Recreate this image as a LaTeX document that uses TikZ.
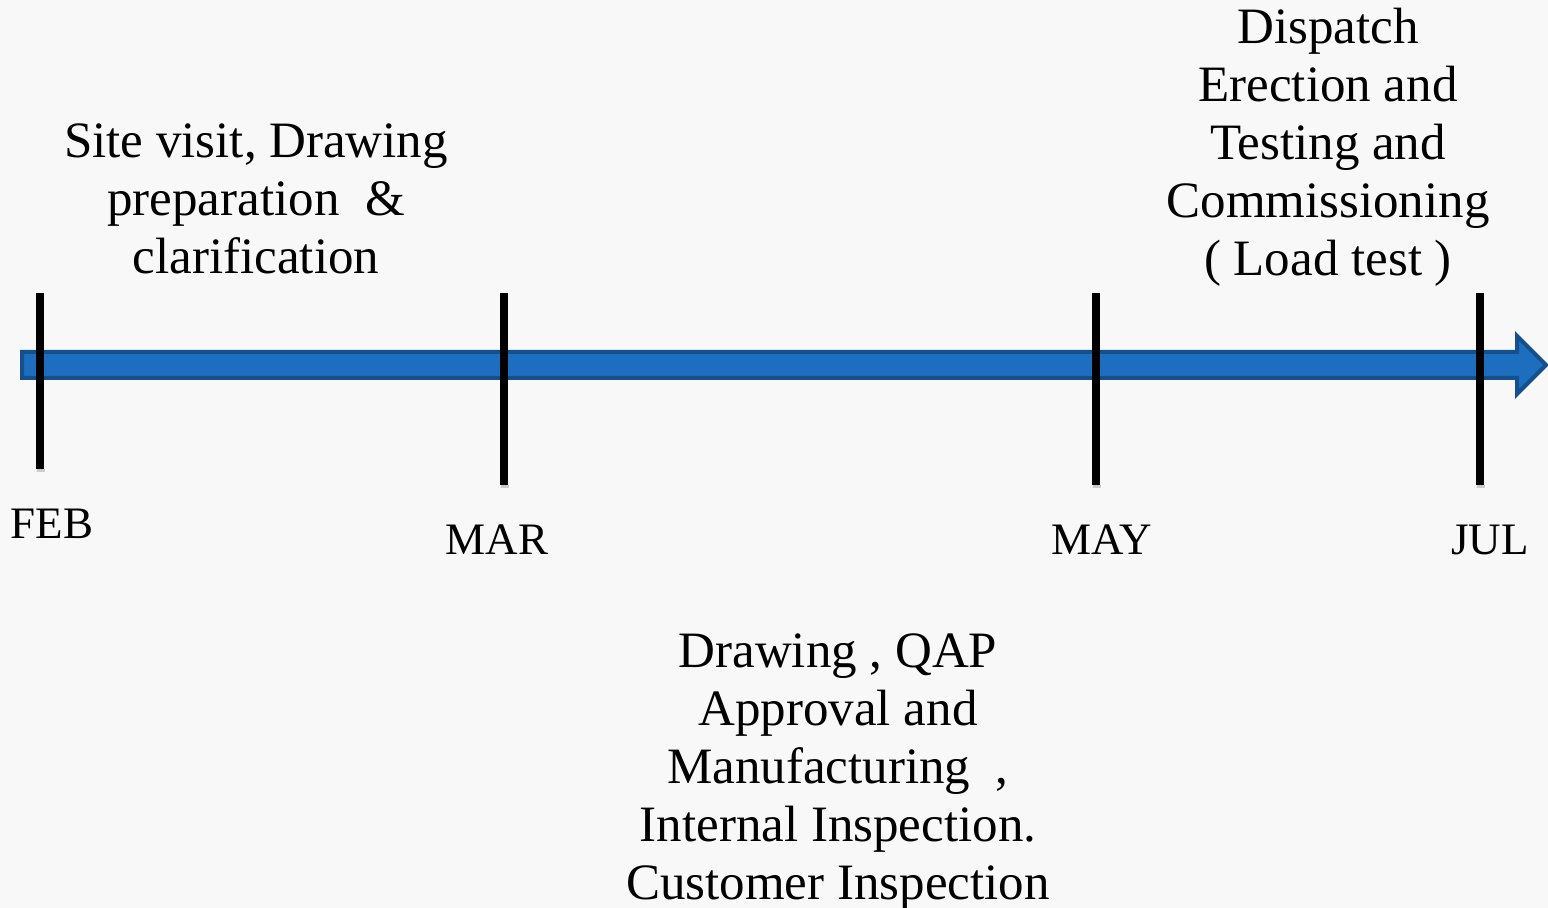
\documentclass[tikz,border=0pt]{standalone}
\usepackage{fontspec}
\setmainfont{Liberation Serif}
\usetikzlibrary{calc}
\definecolor{barblue}{RGB}{30,110,192}
\definecolor{bardark}{RGB}{20,80,140}
\definecolor{paper}{RGB}{248,248,248}

\begin{document}
\begin{tikzpicture}[x=0.5pt,y=-0.5pt,
    tick/.style={line width=4pt,black},
    tickshadow/.style={line width=4pt,black!20},
    month/.style={inner sep=0.75pt,font=\fontsize{22.5}{27}\selectfont},
    phase/.style={inner sep=0.75pt,align=center,font=\fontsize{25.5}{29}\selectfont}]

    % Background
    \fill [paper] (0,0) rectangle (1548,908);
    \useasboundingbox (0,0) rectangle (1548,908);

    % Coordinates of the time line
    \coordinate (start) at (22,365);
    \coordinate (tip) at (1546,365);
    \coordinate (feb-top) at (40,293);   \coordinate (feb-bot) at (40,469);
    \coordinate (mar-top) at (504,293);  \coordinate (mar-bot) at (504,485);
    \coordinate (may-top) at (1096,293); \coordinate (may-bot) at (1096,485);
    \coordinate (jul-top) at (1480,293); \coordinate (jul-bot) at (1480,485);

    %Block Arrow
    \draw [fill=barblue,draw=bardark,line width=2pt,line join=miter]
        ($(start)+(0,-13)$) -- ($(tip)+(-29,-13)$) -- ($(tip)+(-29,-29)$) -- (tip)
        -- ($(tip)+(-29,29)$) -- ($(tip)+(-29,13)$) -- ($(start)+(0,13)$) -- cycle ;

    %Straight Lines
    \foreach \m in {feb,mar,may,jul}{
        \draw [tickshadow] ($(\m-bot)+(1,0)$) -- ($(\m-bot)+(1,3)$) ;
        \draw [tick] (\m-top) -- (\m-bot) ;
    }

    % Text Node
    \node [month] (feb) at (52,524) {FEB};
    % Text Node
    \node [month] (mar) at (497,540) {MAR};
    % Text Node
    \node [month] (may) at (1102,540) {MAY};
    % Text Node
    \node [month] (jul) at (1490,540) {JUL};

    % Text Node
    \node [phase] (site) at (256,199) {Site visit, Drawing\\preparation\ \ \&\\clarification};
    % Text Node
    \node [phase] (dispatch) at (1328,147) {Dispatch\\Erection and\\Testing and\\Commissioning\\( Load test )};
    % Text Node
    \node [phase] (approval) at (838,772) {Drawing , QAP\\Approval and\\Manufacturing\ \ ,\\Internal Inspection.\\Customer Inspection};

\end{tikzpicture}
\end{document}
